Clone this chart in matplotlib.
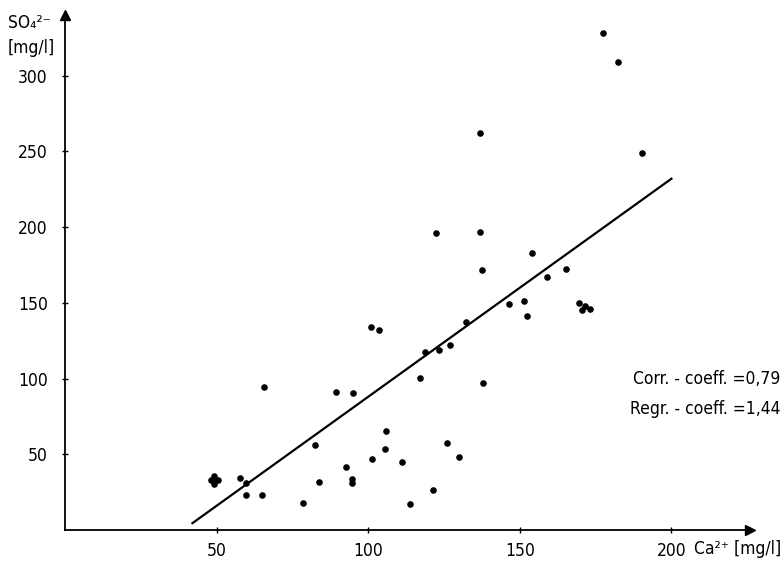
import numpy as np
import matplotlib
matplotlib.use('Agg')
import matplotlib.pyplot as plt

plt.rcParams['font.family'] = ['DejaVu Sans']
plt.rcParams['font.stretch'] = 'condensed'

# Ca2+ [mg/l] vs SO4 2- [mg/l]
ca = [177.4, 182.3, 190.2, 136.8, 122.2, 136.8, 137.5, 154.0, 165.2, 158.9,
      151.3, 146.4, 152.3, 169.5, 171.4, 170.5, 173.1, 132.2, 126.9, 123.3,
      118.7, 100.9, 103.5, 117.2, 137.7, 65.7, 89.3, 95.0, 105.8, 105.6,
      101.3, 92.7, 94.8, 94.8, 83.9, 82.3, 78.5, 65.0, 59.8, 57.7,
      59.6, 126.0, 129.9, 111.0, 121.2, 113.7,
      48.0, 50.5, 49.2, 49.2, 49.2]
so4 = [328, 309, 249, 262, 196, 197, 172, 183, 172.6, 167,
       151, 149.5, 141, 150, 148, 145, 146, 137.6, 122, 119,
       117.7, 134, 132.3, 100.3, 97.2, 94.4, 91, 90.6, 65.3, 53.4,
       47, 41.7, 33.7, 31.3, 31.7, 56.2, 18, 23, 23.1, 34.6,
       31.3, 57.5, 48, 44.8, 26.2, 17.2,
       33, 33, 30.5, 35.5, 33.0]

regr_coeff = 1.44
intercept = -56.0
fit_x = [42, 200]

xticks = [50, 100, 150, 200]
yticks = [50, 100, 150, 200, 250, 300]

fig = plt.figure(figsize=(7.84, 5.62), dpi=100)
ax = fig.add_axes([0.083, 0.057, 0.874, 0.916])
ax.set_xlim(0, 226)
ax.set_ylim(0, 340)

ax.scatter(ca, so4, s=14, color='black', zorder=3)
fx = np.array(fit_x)
ax.plot(fx, regr_coeff * fx + intercept, color='black', lw=1.6)

for s in ['top', 'right']:
    ax.spines[s].set_visible(False)
for s in ['left', 'bottom']:
    ax.spines[s].set_linewidth(1.3)

# arrow heads at the axis ends
ax.plot(1, 0, '>k', ms=7, transform=ax.transAxes, clip_on=False)
ax.plot(0, 1, '^k', ms=7, transform=ax.transAxes, clip_on=False)

ax.set_xticks(xticks)
ax.set_yticks(yticks)
ax.tick_params(direction='inout', length=5, width=1, labelsize=12.5)
ax.tick_params(axis='x', pad=6)
ax.tick_params(axis='y', pad=10)

fig.text(0.997, 1 - 549 / 562, 'Ca\u00b2\u207a [mg/l]', ha='right', va='center', fontsize=12.5)
fig.text(0.01, 0.975, 'SO\u2084\u00b2\u207b', ha='left', va='top', fontsize=12.5)
fig.text(0.01, 0.93, '[mg/l]', ha='left', va='top', fontsize=12.5)

fig.text(0.995, 1 - 379 / 562, 'Corr. - coeff. =0,79', ha='right', va='center', fontsize=12.5)
fig.text(0.995, 1 - 409 / 562, 'Regr. - coeff. =1,44', ha='right', va='center', fontsize=12.5)

fig.savefig('out.png', dpi=100)
